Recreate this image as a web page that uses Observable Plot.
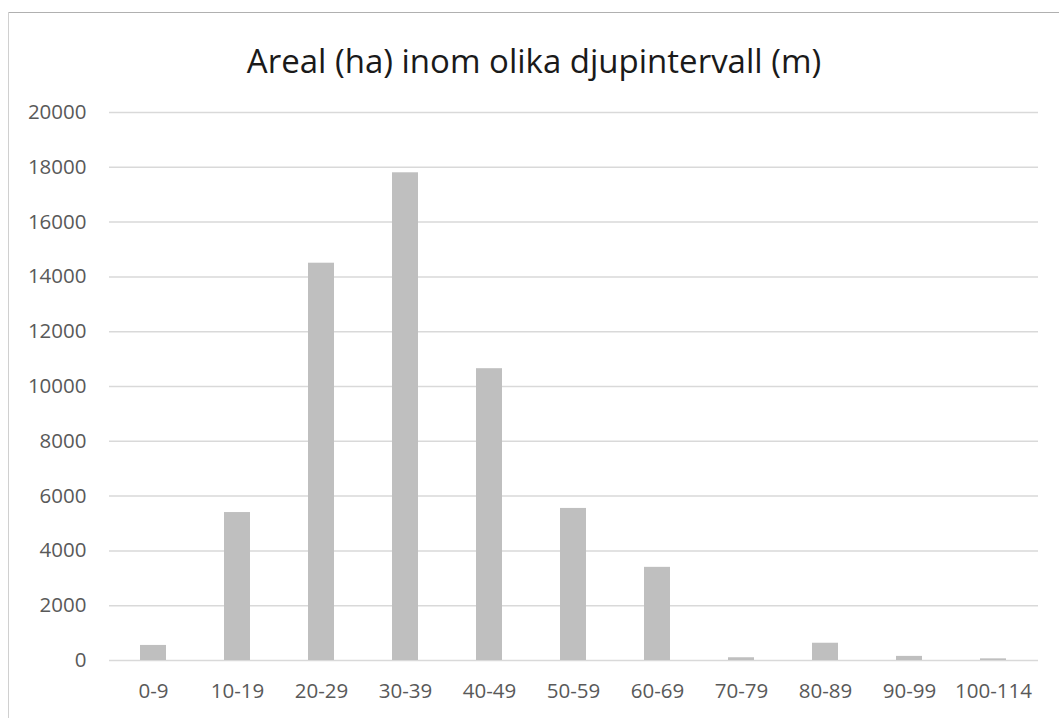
<!DOCTYPE html>
<html>
<head>
<meta charset="utf-8">
<script src="https://cdn.jsdelivr.net/npm/d3@7"></script>
<script src="https://cdn.jsdelivr.net/npm/@observablehq/plot@0.6"></script>
<style>
  html, body { margin: 0; padding: 0; background: #fff; }
  #wrap { position: relative; width: 1059px; height: 718px; overflow: hidden; font-family: "Open Sans", sans-serif; }
  #wrap svg { position: absolute; left: 0; top: 0; }
  .bt { position: absolute; left: 8px; top: 12px; width: 1051px; height: 1px; background: #b0b0b0; }
  .bl { position: absolute; left: 8px; top: 12px; width: 1px; height: 706px; background: #d0d0d0; }
  #title { position: absolute; left: 9px; width: 1050px; top: 44px; text-align: center; font-size: 33px; color: #1a1a1a; line-height: 1; }
</style>
</head>
<body>
<div id="wrap">
  <div id="title">Areal (ha) inom olika djupintervall (m)</div>
</div>
<script>
const categories = ["0-9", "10-19", "20-29", "30-39", "40-49", "50-59", "60-69", "70-79", "80-89", "90-99", "100-114"];
const values = [550, 5400, 14500, 17800, 10650, 5550, 3400, 100, 630, 150, 60];
const yTicks = [0, 2000, 4000, 6000, 8000, 10000, 12000, 14000, 16000, 18000, 20000];

const data = categories.map((c, i) => ({depth: c, area: values[i]}));

const chart = Plot.plot({
  width: 1059,
  height: 718,
  marginLeft: 109,
  marginRight: 21,
  marginTop: 112,
  marginBottom: 58,
  style: {fontFamily: "Open Sans, sans-serif", fontSize: "20px", color: "#595959", background: "transparent"},
  x: {domain: categories, paddingInner: 0.69, paddingOuter: 0.345, label: null},
  y: {domain: [0, 20000], label: null},
  marks: [
    Plot.gridY(yTicks, {stroke: "#d9d9d9", strokeOpacity: 1, strokeWidth: 1.5}),
    Plot.barY(data, {x: "depth", y: "area", fill: "#bfbfbf"}),
    Plot.axisY(yTicks, {tickSize: 0, tickPadding: 23, tickFormat: d => String(d), fill: "#595959", fontSize: 20.5}),
    Plot.axisX({tickSize: 0, tickPadding: 23, fill: "#595959", fontSize: 20.5})
  ]
});
const wrap = document.getElementById("wrap");
wrap.insertBefore(chart, wrap.firstChild);
const bt = document.createElement("div"); bt.className = "bt"; wrap.appendChild(bt);
const bl = document.createElement("div"); bl.className = "bl"; wrap.appendChild(bl);
</script>
</body>
</html>
